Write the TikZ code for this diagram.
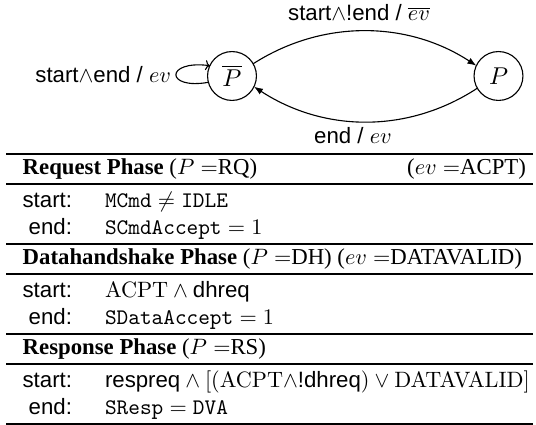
\documentclass[tikz,border=0pt]{standalone}
\usepackage[no-math]{fontspec}
\setmainfont{Liberation Serif}
\setsansfont{Liberation Sans}
\usetikzlibrary{arrows.meta}
\begin{document}
\begin{tikzpicture}[x=0.45pt,y=-0.45pt,
  every node/.style={inner sep=0pt,outer sep=0pt,font=\fontsize{10}{12}\selectfont},
  state/.style={circle,draw,line width=0.5pt,minimum size=22pt,font=\fontsize{11}{13}\selectfont},
  lbl/.style={font=\sffamily\fontsize{10}{12}\selectfont},
  edge/.style={line width=0.5pt,-{Latex[length=4pt,width=3pt]}},
  selfloop/.style={line width=0.5pt,-{To[length=2pt,width=4.5pt]}},
  rule/.style={line width=0.5pt},
  key/.style={font=\sffamily\fontsize{10}{12}\selectfont,anchor=base east},
  val/.style={anchor=base west},
  head/.style={anchor=base west,font=\fontsize{10.25}{12}\selectfont},
  ]
\useasboundingbox (0,0) rectangle (536,425);
% states
\node[state] (Pb) at (232,76) {$\overline{P}$};
\node[state] (P) at (498.5,76) {$P$};
% transitions
\draw[edge] (Pb.30) .. controls (323,19) and (408,21) .. (P.155);
\draw[edge] (P.210) .. controls (409,133) and (325,133) .. (Pb.-26);
\draw[selfloop] (Pb.195) .. controls (165,90) and (165,60) .. (Pb.155);
% labels
\node[lbl,anchor=base] (lt) at (359,21) {start$\wedge$!end / $\overline{ev}$};
\node[lbl,anchor=base east] (ll) at (171,83) {start$\wedge$end / $ev$};
\node[lbl,anchor=base] (lb) at (353,144) {end / $ev$};
% table rules
\foreach \yy in {154,184,244,274,334,364,424}
  \draw[rule] (6,\yy) -- (533,\yy);
% table rows
\node[head] (h1) at (22.7,175) {\textbf{Request Phase} ($P=$RQ)};
\node[head,anchor=base east] (h1r) at (526,175) {($ev=$ACPT)};
\node[key] (s1) at (72,208) {start:};
\node[val] (s1v) at (105,208) {$\texttt{MCmd}\neq\texttt{IDLE}$};
\node[key] (e1) at (72,234.5) {end:};
\node[val] (e1v) at (105,234.5) {$\texttt{SCmdAccept}=1$};
\node[head] (h2) at (22.7,265) {\textbf{Datahandshake Phase} ($P=$DH) ($ev=$DATAVALID)};
\node[key] (s2) at (72,298) {start:};
\node[val] (s2v) at (105,298) {$\mathrm{ACPT}\wedge\textsf{dhreq}$};
\node[key] (e2) at (72,324.5) {end:};
\node[val] (e2v) at (105,324.5) {$\texttt{SDataAccept}=1$};
\node[head] (h3) at (22.7,355) {\textbf{Response Phase} ($P=$RS)};
\node[key] (s3) at (72,388) {start:};
\node[val] (s3v) at (105,388) {$\textsf{respreq}\wedge[(\mathrm{ACPT}{\wedge}\textsf{!dhreq})\vee\mathrm{DATAVALID}]$};
\node[key] (e3) at (72,414.5) {end:};
\node[val] (e3v) at (105,414.5) {$\texttt{SResp}=\texttt{DVA}$};
\end{tikzpicture}
\end{document}
